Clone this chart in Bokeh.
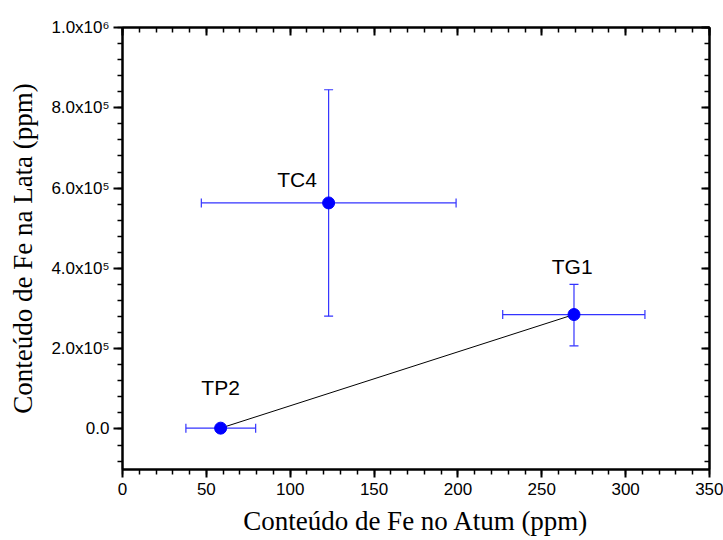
from bokeh.plotting import figure
from bokeh.models import (ColumnDataSource, Whisker, TeeHead, LinearAxis, FixedTicker, Range1d)
from bokeh.core.properties import value
from bokeh.embed import file_html
from bokeh.resources import INLINE

# Data
samples = ["TC4", "TG1", "TP2"]
fe_atum = [122.9, 269.2, 58.5]
fe_lata = [5.63e5, 2.85e5, 2.0e3]
atum_lo = [47.0, 226.7, 37.8]
atum_hi = [198.9, 311.5, 79.4]
lata_lo = [2.81e5, 2.07e5, 2.0e3]
lata_hi = [8.45e5, 3.60e5, 2.0e3]
label_x = [104.1, 268.1, 58.5]
label_y = [6.21e5, 4.05e5, 1.04e5]
line_x = [58.5, 269.2]
line_y = [2.0e3, 2.85e5]

x_ticks = [0, 50, 100, 150, 200, 250, 300, 350]
x_minor = list(range(0, 351, 10))
y_ticks = [0, 200000, 400000, 600000, 800000, 1000000]
y_minor = [i * 40000 for i in range(-2, 26)]
y_tick_labels = {0: "0.0", 200000: "2.0x10\u2075", 400000: "4.0x10\u2075",
                 600000: "6.0x10\u2075", 800000: "8.0x10\u2075", 1000000: "1.0x10\u2076"}

src = ColumnDataSource(dict(x=fe_atum, y=fe_lata, xlo=atum_lo, xhi=atum_hi,
                            ylo=lata_lo, yhi=lata_hi))
lab = ColumnDataSource(dict(x=label_x, y=label_y, t=samples))

p = figure(width=723, height=540, output_backend="svg", toolbar_location=None,
           x_range=Range1d(0, 350), y_range=Range1d(-1.01e5, 1.0e6),
           min_border_left=122, min_border_right=14, min_border_top=27, min_border_bottom=71,
           x_axis_label="Conteúdo de Fe no Atum (ppm)",
           y_axis_label="Conteúdo de Fe na Lata (ppm)")
p.xgrid.visible = False
p.ygrid.visible = False
p.outline_line_color = "black"
p.outline_line_width = 2

blue = "#0000ff"
eb = "#3333ff"

p.line(line_x, line_y, line_color="black", line_width=1)

wy = Whisker(source=src, base="x", lower="ylo", upper="yhi", dimension="height",
             line_color=eb, line_width=1.2,
             upper_head=TeeHead(size=9, line_color=eb, line_width=1.2),
             lower_head=TeeHead(size=9, line_color=eb, line_width=1.2))
wx = Whisker(source=src, base="y", lower="xlo", upper="xhi", dimension="width",
             line_color=eb, line_width=1.2,
             upper_head=TeeHead(size=9, line_color=eb, line_width=1.2),
             lower_head=TeeHead(size=9, line_color=eb, line_width=1.2))
p.add_layout(wy)
p.add_layout(wx)

p.scatter("x", "y", source=src, size=12, fill_color=blue, line_color=blue)

p.text("x", "y", text="t", source=lab, text_align="center", text_baseline="middle",
       text_font=value("Liberation Sans"), text_font_size="21px", text_color="black")

def style_axis(ax, ticks, minor):
    ax.ticker = FixedTicker(ticks=ticks, minor_ticks=minor)
    ax.axis_line_color = "black"
    ax.axis_line_width = 2
    ax.major_tick_line_width = 2
    ax.minor_tick_line_width = 1.5
    ax.major_tick_line_color = "black"
    ax.minor_tick_line_color = "black"
    ax.major_label_text_font = "Liberation Sans"
    ax.major_label_text_font_size = "17px"
    ax.major_label_text_color = "black"
    ax.axis_label_text_font = "Liberation Serif"
    ax.axis_label_text_font_size = "27px"
    ax.axis_label_text_font_style = "normal"
    ax.axis_label_text_color = "black"

xa = p.xaxis[0]
style_axis(xa, x_ticks, x_minor)
xa.major_tick_out = 8
xa.major_tick_in = 0
xa.minor_tick_out = 5
xa.minor_tick_in = 0
xa.major_label_standoff = 5
xa.axis_label_standoff = 8

ya = p.yaxis[0]
style_axis(ya, y_ticks, y_minor)
ya.major_label_overrides = y_tick_labels
ya.major_tick_out = 9
ya.major_tick_in = 0
ya.minor_tick_out = 5
ya.minor_tick_in = 0
ya.major_label_standoff = 4
ya.axis_label_standoff = 10

top = LinearAxis()
style_axis(top, x_ticks, x_minor)
top.major_label_overrides = {t: "" for t in x_ticks}
top.major_tick_in = 8
top.major_tick_out = 0
top.minor_tick_in = 5
top.minor_tick_out = 0
p.add_layout(top, "above")

right = LinearAxis()
style_axis(right, y_ticks, y_minor)
right.major_label_overrides = {t: "" for t in y_ticks}
right.major_tick_in = 8
right.major_tick_out = 0
right.minor_tick_in = 5
right.minor_tick_out = 0
p.add_layout(right, "right")

open("out.html", "w").write(file_html(p, INLINE))
